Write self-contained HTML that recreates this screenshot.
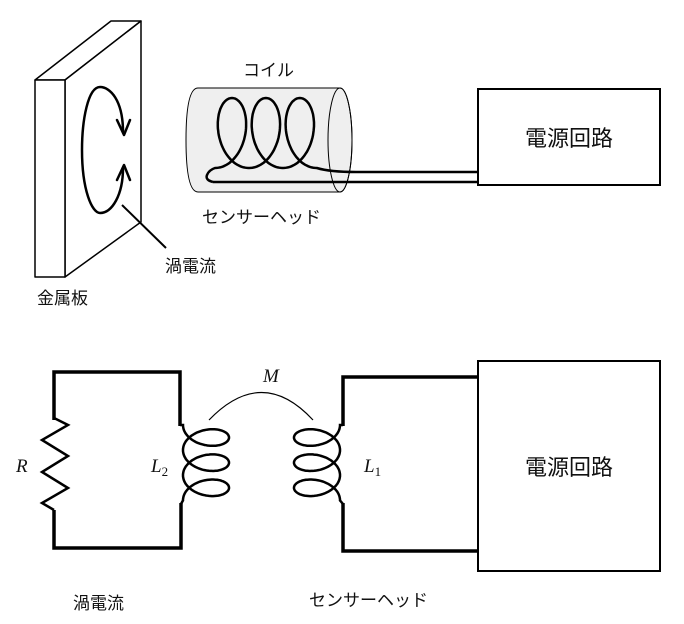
<!DOCTYPE html>
<html><head><meta charset="utf-8"><style>
html,body{margin:0;padding:0;background:#fff;}
svg{display:block;}
text{font-family:"Liberation Sans","Noto Sans CJK JP",sans-serif;fill:#111;}
.m{font-family:"Liberation Serif","DejaVu Serif",serif;font-style:italic;}
</style></head><body>
<svg id="s" width="684" height="624" viewBox="0 0 684 624" xmlns="http://www.w3.org/2000/svg">
<g fill="#fff" stroke="#000" stroke-width="1.5" stroke-linejoin="round">
<polygon points="35,80 111,21 141,21 65,80"/>
<polygon points="65,80 141,21 141,222 65,277"/>
<rect x="35" y="80" width="30" height="197"/>
</g>
<g fill="none" stroke="#000" stroke-width="2.5" stroke-linecap="round" stroke-linejoin="round">
<path d="M123 132 C123 100,110 87,100 87 C88 87,82 120,82 150 C82 190,92 213,100 213 C112 213,123 195,123 168"/>
<polyline points="117,120 124,135 130,120"/>
<polyline points="117,180 124,165 130,180"/>
</g>
<line x1="122" y1="205" x2="166" y2="248" stroke="#000" stroke-width="2"/>
<text x="165" y="272" font-size="17">渦電流</text>
<text x="37" y="304" font-size="17">金属板</text>
<path d="M198 88 L340 88 A12 52 0 0 1 340 192 L198 192 Q186 192 186 140 Q186 88 198 88 Z" fill="#efefef" stroke="#000" stroke-width="1"/>
<ellipse cx="340" cy="140" rx="12" ry="52" fill="none" stroke="#000" stroke-width="1"/>
<path id="tc" fill="none" stroke="#000" stroke-width="2.5"/>
<path d="M213 182 L480 182 M356 172 L480 172" stroke="#000" stroke-width="2.5" fill="none"/>
<text x="243" y="76" font-size="17">コイル</text>
<text x="202" y="223" font-size="17">センサーヘッド</text>
<rect x="478" y="89" width="182" height="96" fill="#fff" stroke="#000" stroke-width="2"/>
<text x="569" y="146" font-size="22" text-anchor="middle">電源回路</text>
<g fill="none" stroke="#000" stroke-width="3.5" stroke-linejoin="miter">
<polyline points="54,420 54,372 180,372 180,426"/>
<polyline points="54,510 54,548 181,548 181,503"/>
<polyline points="343,426 343,377 478,377"/>
<polyline points="343,503 343,551 478,551"/>
</g>
<polyline points="54,418 68,425 42,440 68,456 42,472 68,488 42,503 54,510" fill="none" stroke="#000" stroke-width="2.5" stroke-linejoin="miter"/>
<path id="c2" fill="none" stroke="#000" stroke-width="2.5"/>
<path id="c1" fill="none" stroke="#000" stroke-width="2.5"/>
<path d="M209 420 Q262 365 313 420" fill="none" stroke="#000" stroke-width="1.2"/>
<rect x="478" y="361" width="182" height="210" fill="#fff" stroke="#000" stroke-width="2"/>
<text x="569" y="475" font-size="22" text-anchor="middle">電源回路</text>
<text class="m" x="263" y="382" font-size="19">M</text>
<text class="m" x="16" y="472" font-size="19">R</text>
<text class="m" x="151" y="472" font-size="19">L<tspan font-size="13" dy="4" font-style="normal">2</tspan></text>
<text class="m" x="364" y="472" font-size="19">L<tspan font-size="13" dy="4" font-style="normal">1</tspan></text>
<text x="73" y="609" font-size="17">渦電流</text>
<text x="309" y="606" font-size="17">センサーヘッド</text>
</svg>
<script>
(function(){
 var p=[],i,t;
 var d="M213 182 Q205 180 207 175 Q209 170 215 168 ";
 for(i=0;i<=300;i++){t=6*Math.PI*i/300;p.push((215+5.4*t+22*Math.sin(t)).toFixed(1)+" "+(133+35*Math.cos(t)).toFixed(1));}
 d+="L"+p.join(" L")+" Q330 172 356 172";
 document.getElementById("tc").setAttribute("d",d);
 var a=[],b=[];
 for(i=0;i<=300;i++){t=Math.PI+6*Math.PI*i/300;var x=206+23*Math.cos(t),y=412.4+4*t-14*Math.sin(t);
  a.push(x.toFixed(1)+" "+y.toFixed(1));b.push((523-x).toFixed(1)+" "+y.toFixed(1));}
 document.getElementById("c2").setAttribute("d","M180 425 L"+a.join(" L")+" L181 504");
 document.getElementById("c1").setAttribute("d","M343 425 L"+b.join(" L")+" L343 504");
})();
</script>
</body></html>
